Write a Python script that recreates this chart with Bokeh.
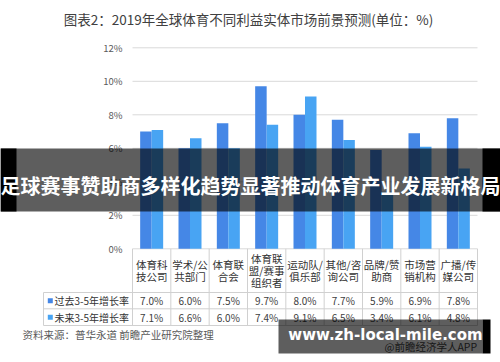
from bokeh.plotting import figure
from bokeh.models import Range1d
from bokeh.core.properties import value
from bokeh.embed import file_html
from bokeh.resources import INLINE

# ---- data -------------------------------------------------------------
title_text = "图表2：2019年全球体育不同利益实体市场前景预测(单位：%)"
categories = [
    "体育科\n技公司", "学术/公\n共部门", "体育联\n合会", "体育联\n盟/赛事\n组织者",
    "运动队/\n俱乐部", "其他/咨\n询公司", "品牌/赞\n助商", "市场营\n销机构", "广播/传\n媒公司",
]
series_names = ["过去3-5年增长率", "未来3-5年增长率"]
past_growth = [7.0, 6.0, 7.5, 9.7, 8.0, 7.7, 5.9, 6.9, 7.8]
future_growth = [7.1, 6.6, 6.0, 7.4, 9.1, 6.5, 3.4, 6.1, 4.8]
y_ticks = [0, 2, 4, 6, 8, 10, 12]
y_tick_labels = ["0%", "2%", "4%", "6%", "8%", "10%", "12%"]
source_note = "资料来源：普华永道 前瞻产业研究院整理"
banner_text = "足球赛事赞助商多样化趋势显著推动体育产业发展新格局"
site_text = "www.zh-local-mile.com"
app_text = "@前瞻经济学人APP"

# ---- layout -----------------------------------------------------------
W, H = 500, 362
PLOT_L, PLOT_R = 132, 477
ZERO_PX, PX_PER_PCT = 248.3, 16.75
n = len(categories)
col_w = (PLOT_R - PLOT_L) / n
BAR_W = 0.3

PAST_COLOR = "#4587e6"
FUTURE_COLOR = "#48a4f3"
GRID_COLOR = "#d9d9d9"
TABLE_LINE = "#d0d0d0"
TEXT_DARK = "#404040"
CJK = value("Noto Sans CJK SC")

p = figure(
    width=W, height=H, output_backend="svg", toolbar_location=None,
    x_axis_type=None, y_axis_type=None, min_border=0,
    x_range=Range1d(-PLOT_L / col_w, (W - PLOT_L) / col_w),
    y_range=Range1d(-(H - ZERO_PX) / PX_PER_PCT, ZERO_PX / PX_PER_PCT),
)
p.outline_line_color = None
p.grid.visible = False
p.background_fill_color = "white"
p.border_fill_color = "white"
# pixel space for page furniture (top-down)
p.extra_x_ranges = {"px": Range1d(0, W)}
p.extra_y_ranges = {"px": Range1d(H, 0)}

# title
p.text(x=[248], y=[18], text=[title_text], x_range_name="px", y_range_name="px",
       text_align="center", text_baseline="middle", text_font=CJK,
       text_font_size="13.5px", text_color=TEXT_DARK)

# gridlines and value-axis labels
p.segment(x0=[0] * len(y_ticks), x1=[n] * len(y_ticks), y0=y_ticks, y1=y_ticks,
          line_color=GRID_COLOR, line_width=1)
p.text(x=[-10 / col_w] * len(y_ticks), y=y_ticks, text=y_tick_labels,
       text_align="right", text_baseline="middle", text_font=CJK,
       text_font_size="9.5px", text_color="#595959")

# grouped bars
centers = [i + 0.5 for i in range(n)]
p.vbar(x=[c - BAR_W / 2 for c in centers], top=past_growth, bottom=0, width=BAR_W,
       fill_color=PAST_COLOR, line_color=None)
p.vbar(x=[c + BAR_W / 2 for c in centers], top=future_growth, bottom=0, width=BAR_W,
       fill_color=FUTURE_COLOR, line_color=None)

# ---- data table under the chart ----------------------------------------
HEAD_TOP, ROW1_TOP, ROW2_TOP, TABLE_BOT = ZERO_PX, 292, 308.3, 325
LABEL_L = 43

p.segment(x0=list(range(n + 1)), x1=list(range(n + 1)),
          y0=[HEAD_TOP] * (n + 1), y1=[TABLE_BOT] * (n + 1),
          y_range_name="px", line_color=TABLE_LINE, line_width=1)
p.segment(x0=[LABEL_L] * 3, x1=[PLOT_R] * 3, y0=[ROW1_TOP, ROW2_TOP, TABLE_BOT],
          y1=[ROW1_TOP, ROW2_TOP, TABLE_BOT], x_range_name="px", y_range_name="px",
          line_color=TABLE_LINE, line_width=1)
p.segment(x0=[LABEL_L], x1=[LABEL_L], y0=[ROW1_TOP], y1=[TABLE_BOT],
          x_range_name="px", y_range_name="px", line_color=TABLE_LINE, line_width=1)

p.text(x=centers, y=[(HEAD_TOP + ROW1_TOP) / 2] * n, text=categories, y_range_name="px",
       text_align="center", text_baseline="middle", text_font=CJK,
       text_font_size="10.5px", text_line_height=0.8, text_color="#333333")

row_mid = [(ROW1_TOP + ROW2_TOP) / 2, (ROW2_TOP + TABLE_BOT) / 2]
for vals, ym in zip([past_growth, future_growth], row_mid):
    p.text(x=centers, y=[ym] * n, text=[f"{v:.1f}%" for v in vals], y_range_name="px",
           text_align="center", text_baseline="middle", text_font=CJK,
           text_font_size="10px", text_color=TEXT_DARK)

p.scatter(x=[49.8, 49.8], y=row_mid, marker="square", size=5,
          fill_color=[PAST_COLOR, FUTURE_COLOR], line_color=None,
          x_range_name="px", y_range_name="px")
p.text(x=[54, 54], y=row_mid, text=series_names, x_range_name="px", y_range_name="px",
       text_align="left", text_baseline="middle", text_font=CJK,
       text_font_size="10px", text_color="#333333")

# source line and app credit
p.text(x=[22], y=[334], text=[source_note], x_range_name="px", y_range_name="px",
       text_align="left", text_baseline="middle", text_font=CJK,
       text_font_size="10.5px", text_color="#595959")
p.text(x=[384], y=[346], text=[app_text], x_range_name="px", y_range_name="px",
       text_align="left", text_baseline="middle", text_font=CJK,
       text_font_size="10.5px", text_color="#444444")

# ---- headline banner ----------------------------------------------------
p.quad(left=[0], right=[W], top=[148], bottom=[211], x_range_name="px", y_range_name="px",
       fill_color="black", fill_alpha=0.63, line_color=None)
p.quad(left=[0, 482], right=[16, W], top=[148, 148], bottom=[211, 211],
       x_range_name="px", y_range_name="px", fill_color="black", line_color=None)
p.text(x=[250], y=[185], text=[banner_text], x_range_name="px", y_range_name="px",
       text_align="center", text_baseline="middle", text_font=CJK,
       text_font_style="bold", text_font_size="20px", text_color="white")

# site badge
p.quad(left=[278], right=[482], top=[319], bottom=[353], x_range_name="px", y_range_name="px",
       fill_color="black", fill_alpha=0.63, line_color=None)
p.quad(left=[482], right=[490], top=[319], bottom=[353], x_range_name="px", y_range_name="px",
       fill_color="black", line_color=None)
p.text(x=[385], y=[334], text=[site_text], x_range_name="px", y_range_name="px",
       text_align="center", text_baseline="middle", text_font=value("DejaVu Sans"),
       text_font_style="bold", text_font_size="15px", text_color="white")

open("out.html", "w").write(file_html(p, INLINE))
